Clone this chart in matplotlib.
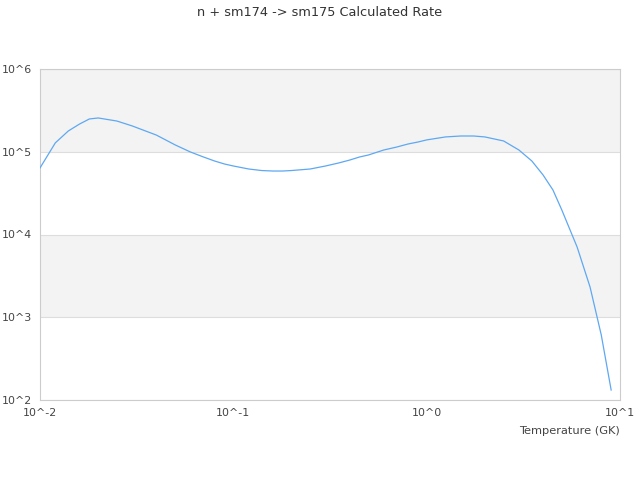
import matplotlib
matplotlib.use("Agg")
import matplotlib.pyplot as plt

# 温度 (GK) と反応率
temperature = [0.01, 0.012, 0.014, 0.016, 0.018, 0.02, 0.025, 0.03, 0.04, 0.05,
               0.06, 0.07, 0.08, 0.09, 0.1, 0.12, 0.14, 0.16, 0.18, 0.2,
               0.25, 0.3, 0.35, 0.4, 0.45, 0.5, 0.6, 0.7, 0.8, 0.9,
               1.0, 1.25, 1.5, 1.75, 2.0, 2.5, 3.0, 3.5, 4.0, 4.5,
               5.0, 6.0, 7.0, 8.0, 9.0]
rate = [6.37e4, 1.28e5, 1.78e5, 2.16e5, 2.49e5, 2.56e5, 2.35e5, 2.05e5, 1.59e5, 1.21e5,
        9.93e4, 8.65e4, 7.73e4, 7.11e4, 6.73e4, 6.19e4, 5.93e4, 5.85e4, 5.85e4, 5.93e4,
        6.19e4, 6.73e4, 7.31e4, 7.94e4, 8.65e4, 9.14e4, 1.05e5, 1.14e5, 1.24e5, 1.31e5,
        1.39e5, 1.51e5, 1.55e5, 1.55e5, 1.51e5, 1.35e5, 1.05e5, 7.73e4, 5.24e4, 3.45e4,
        1.98e4, 7.06e3, 2.32e3, 611, 132]

x_ticks = [1e-2, 1e-1, 1e0, 1e1]
x_labels = ["10^-2", "10^-1", "10^0", "10^1"]
y_ticks = [1e2, 1e3, 1e4, 1e5, 1e6]
y_labels = ["10^2", "10^3", "10^4", "10^5", "10^6"]

fig = plt.figure(figsize=(6.4, 4.8), dpi=100)
ax = fig.add_axes([40 / 640, 80 / 480, 580 / 640, 331 / 480])

ax.set_xscale("log")
ax.set_yscale("log")
ax.set_xlim(1e-2, 1e1)
ax.set_ylim(1e2, 1e6)

# 交互の背景帯
ax.axhspan(1e5, 1e6, color="#f3f3f3", zorder=0, lw=0)
ax.axhspan(1e3, 1e4, color="#f3f3f3", zorder=0, lw=0)
for y in y_ticks:
    ax.axhline(y, color="#dddddd", lw=0.8, zorder=1)

ax.plot(temperature, rate, color="#5ea8f2", lw=0.9, zorder=3)

ax.set_xticks(x_ticks)
ax.set_xticklabels(x_labels)
ax.set_yticks(y_ticks)
ax.set_yticklabels(y_labels)
ax.minorticks_off()
ax.tick_params(length=0, labelsize=7.9, colors="#444444")
ax.tick_params(axis="y", pad=6)
ax.tick_params(axis="x", pad=6)

for s in ax.spines.values():
    s.set_color("#cccccc")
    s.set_linewidth(0.8)

fig.text(0.5, 1 - 12 / 480, "n + sm174 -> sm175 Calculated Rate",
         ha="center", va="center", fontsize=9.3, color="#333333")
fig.text(620 / 640, 1 - 431 / 480, "Temperature (GK)",
         ha="right", va="center", fontsize=8.2, color="#444444")

fig.savefig("out.png", dpi=100)
